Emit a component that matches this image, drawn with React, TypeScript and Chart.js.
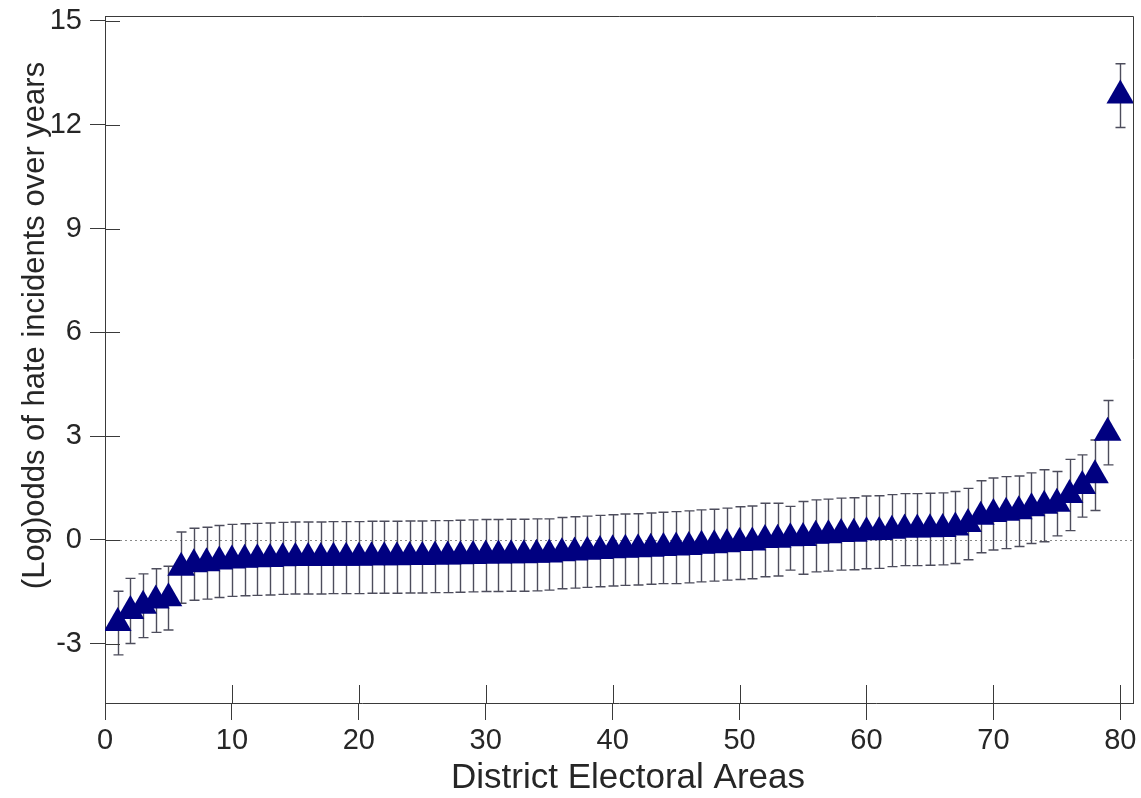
import React, { useEffect, useRef } from "react";
import { Chart, registerables, ScatterController } from "chart.js";

Chart.register(...registerables);

// scatter controller whose big markers do not push the chart area inwards
class ForestController extends ScatterController {
  static id = "forest";
  static defaults = { ...(ScatterController as any).defaults };
  static overrides = (ScatterController as any).overrides;
  getMaxOverflow() {
    return 0;
  }
}
Chart.register(ForestController as any);

// District Electoral Areas (rank order)
const areas: number[] = [
  1, 2, 3, 4, 5, 6, 7, 8, 9, 10, 11, 12, 13, 14, 15, 16, 17, 18, 19, 20,
  21, 22, 23, 24, 25, 26, 27, 28, 29, 30, 31, 32, 33, 34, 35, 36, 37, 38, 39, 40,
  41, 42, 43, 44, 45, 46, 47, 48, 49, 50, 51, 52, 53, 54, 55, 56, 57, 58, 59, 60,
  61, 62, 63, 64, 65, 66, 67, 68, 69, 70, 71, 72, 73, 74, 75, 76, 77, 78, 79, 80,
];

// (Log)odds estimates
const logOdds: number[] = [
  -2.4, -2.05, -1.9, -1.75, -1.68, -0.8, -0.7, -0.67, -0.62, -0.59,
  -0.57, -0.56, -0.55, -0.53, -0.52, -0.52, -0.52, -0.51, -0.51, -0.51,
  -0.5, -0.5, -0.5, -0.49, -0.49, -0.48, -0.48, -0.47, -0.46, -0.45,
  -0.45, -0.44, -0.44, -0.43, -0.42, -0.38, -0.36, -0.34, -0.32, -0.3,
  -0.28, -0.27, -0.25, -0.23, -0.22, -0.2, -0.17, -0.15, -0.12, -0.09,
  -0.07, 0.0, 0.01, 0.05, 0.06, 0.12, 0.14, 0.17, 0.18, 0.22,
  0.23, 0.27, 0.3, 0.3, 0.31, 0.32, 0.36, 0.46, 0.67, 0.75,
  0.79, 0.83, 0.92, 0.99, 1.05, 1.3, 1.56, 1.87, 3.1, 12.84,
];

// half-width of the error bars
const ciHalf: number[] = [
  0.92, 0.94, 0.92, 0.92, 0.92, 1.03, 1.04, 1.04, 1.04, 1.04,
  1.04, 1.04, 1.04, 1.04, 1.04, 1.04, 1.04, 1.04, 1.04, 1.04,
  1.04, 1.04, 1.04, 1.04, 1.04, 1.04, 1.04, 1.04, 1.04, 1.04,
  1.04, 1.04, 1.04, 1.04, 1.03, 1.03, 1.03, 1.03, 1.03, 1.03,
  1.03, 1.03, 1.03, 1.03, 1.04, 1.04, 1.04, 1.04, 1.04, 1.05,
  1.05, 1.06, 1.05, 0.92, 1.05, 1.04, 1.04, 1.04, 1.04, 1.05,
  1.05, 1.04, 1.04, 1.04, 1.04, 1.04, 1.04, 1.03, 1.04, 1.04,
  1.04, 1.02, 1.02, 1.04, 0.93, 1.03, 0.9, 1.02, 0.93, 0.92,
];

const yTickValues: number[] = [-3, 0, 3, 6, 9, 12, 15];
const xTickValues: number[] = [0, 10, 20, 30, 40, 50, 60, 70, 80];

const xTitle = "District Electoral Areas";
const yTitle = "(Log)odds of hate incidents over years";

const FONT = "'Liberation Sans', Arial, sans-serif";
const AXIS = "#3a3a3a";

const forestPlugin = {
  id: "forestExtras",
  beforeDatasetsDraw(chart: any) {
    const { ctx, chartArea, scales } = chart;
    const { left, right } = chartArea;
    const x = scales.x;
    const y = scales.y;
    ctx.save();
    // dotted reference line at 0
    const y0 = y.getPixelForValue(0);
    ctx.strokeStyle = "#8a8a8a";
    ctx.lineWidth = 1;
    ctx.setLineDash([2, 3]);
    ctx.beginPath();
    ctx.moveTo(left, Math.round(y0) + 0.5);
    ctx.lineTo(right, Math.round(y0) + 0.5);
    ctx.stroke();
    ctx.setLineDash([]);
    // error bars
    ctx.strokeStyle = "#4d4d5c";
    ctx.lineWidth = 1.4;
    const cap = 5;
    areas.forEach((a, i) => {
      const px = Math.round(x.getPixelForValue(a)) + 0.5;
      const hi = y.getPixelForValue(logOdds[i] + ciHalf[i]);
      const lo = y.getPixelForValue(logOdds[i] - ciHalf[i]);
      ctx.beginPath();
      ctx.moveTo(px, hi);
      ctx.lineTo(px, lo);
      ctx.moveTo(px - cap, hi);
      ctx.lineTo(px + cap, hi);
      ctx.moveTo(px - cap, lo);
      ctx.lineTo(px + cap, lo);
      ctx.stroke();
    });
    ctx.restore();
  },
  afterDraw(chart: any) {
    const { ctx, chartArea, scales } = chart;
    const { left, right, top, bottom } = chartArea;
    const x = scales.x;
    const y = scales.y;
    ctx.save();
    ctx.strokeStyle = AXIS;
    ctx.lineWidth = 1;
    // top and right frame lines
    ctx.beginPath();
    ctx.moveTo(left, top + 0.5);
    ctx.lineTo(right + 0.5, top + 0.5);
    ctx.lineTo(right + 0.5, bottom);
    ctx.stroke();
    // inner tick marks
    ctx.beginPath();
    yTickValues.forEach((v) => {
      const py = Math.round(y.getPixelForValue(v)) + 0.5;
      ctx.moveTo(left, py);
      ctx.lineTo(left + 15, py);
    });
    xTickValues.forEach((v) => {
      const px = Math.round(x.getPixelForValue(v)) + 0.5;
      ctx.moveTo(px, bottom);
      ctx.lineTo(px, bottom - 18);
    });
    ctx.stroke();
    // axis titles
    ctx.fillStyle = "#262626";
    ctx.textAlign = "center";
    ctx.textBaseline = "middle";
    ctx.font = `35px ${FONT}`;
    ctx.fillText(xTitle, (left + right) / 2 + 9, 778);
    ctx.font = `31px ${FONT}`;
    ctx.translate(35, (top + bottom) / 2 - 34);
    ctx.rotate(-Math.PI / 2);
    ctx.fillText(yTitle, 0, 0);
    ctx.restore();
  },
};

export default function App() {
  const canvasRef = useRef<HTMLCanvasElement | null>(null);

  useEffect(() => {
    const canvas = canvasRef.current;
    if (!canvas) return;
    const chart = new Chart(canvas, {
      type: "forest" as any,
      data: {
        datasets: [
          {
            label: "DEA",
            data: areas.map((a, i) => ({ x: a, y: logOdds[i] })),
            pointStyle: "triangle",
            pointRadius: 16,
            pointHoverRadius: 16,
            backgroundColor: "#000080",
            borderColor: "#000080",
            borderWidth: 0,
            clip: 0,
          } as any,
        ],
      },
      options: {
        responsive: false,
        animation: false,
        events: [],
        layout: { padding: { top: 16, right: 8, left: 0, bottom: 0 } },
        plugins: {
          legend: { display: false },
          tooltip: { enabled: false },
        },
        scales: {
          x: {
            type: "linear",
            position: "bottom",
            min: 0,
            max: 81,
            afterFit: (s: any) => {
              s.height = 95;
              s.paddingLeft = 0;
              s.paddingRight = 0;
            },
            afterBuildTicks: (s: any) => {
              s.ticks = xTickValues.map((v) => ({ value: v }));
            },
            ticks: {
              font: { family: FONT, size: 29 },
              color: "#262626",
              padding: 4,
              maxRotation: 0,
              autoSkip: false,
            },
            grid: {
              drawOnChartArea: false,
              drawTicks: true,
              tickLength: 17,
              color: AXIS,
            },
            border: { display: true, color: AXIS, width: 1 },
          },
          y: {
            type: "linear",
            position: "left",
            min: -4.71,
            max: 15.14,
            afterFit: (s: any) => {
              s.width = 105;
              s.paddingTop = 0;
              s.paddingBottom = 0;
            },
            afterBuildTicks: (s: any) => {
              s.ticks = yTickValues.map((v) => ({ value: v }));
            },
            ticks: {
              font: { family: FONT, size: 29 },
              color: "#262626",
              padding: 8,
              autoSkip: false,
            },
            grid: {
              drawOnChartArea: false,
              drawTicks: true,
              tickLength: 15,
              color: AXIS,
            },
            border: { display: true, color: AXIS, width: 1 },
          },
        },
      } as any,
      plugins: [forestPlugin],
    });
    return () => chart.destroy();
  }, []);

  return (
    <div style={{ position: "fixed", left: 0, top: 0, width: 1141, height: 798, background: "#fff" }}>
      <canvas ref={canvasRef} width={1141} height={798} style={{ display: "block" }} />
    </div>
  );
}
